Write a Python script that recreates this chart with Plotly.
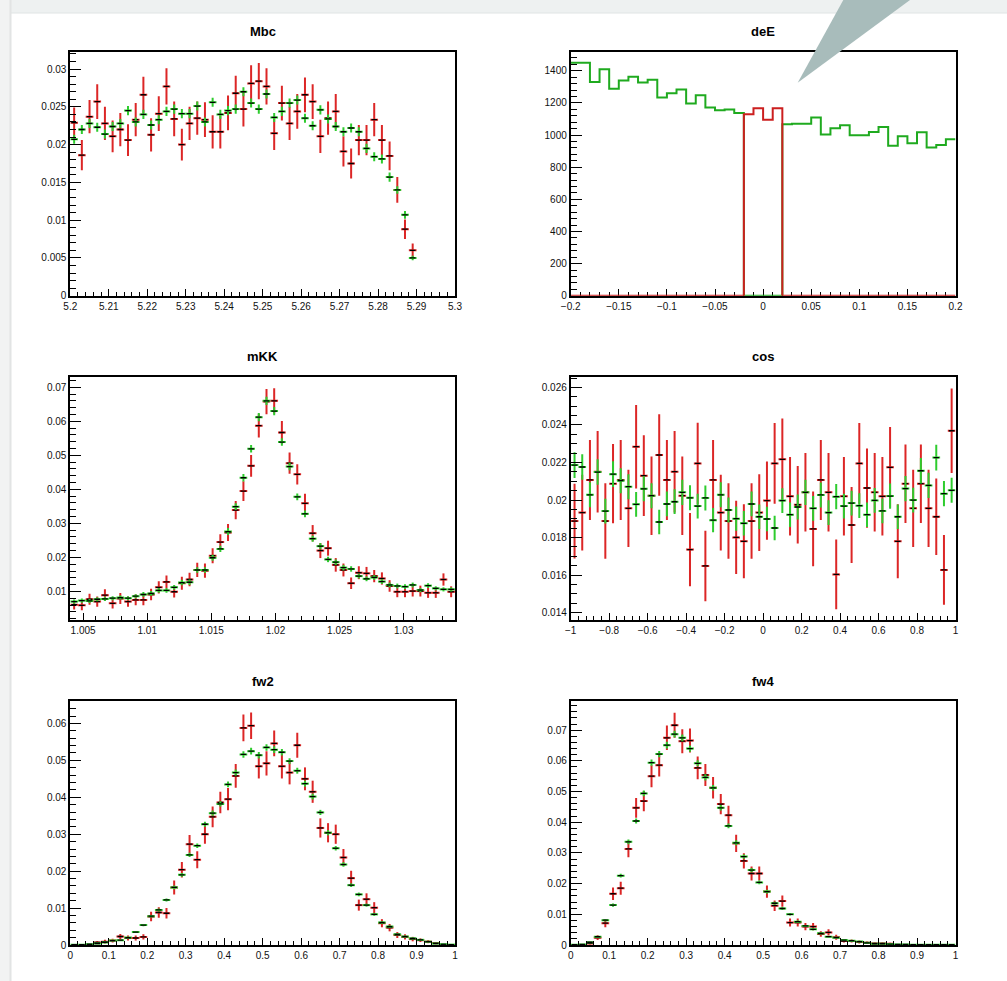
import numpy as np
import plotly.graph_objects as go
from plotly.subplots import make_subplots

# ---------------- data ----------------
panel_titles = ["Mbc", "deE", "mKK", "cos", "fw2", "fw4"]

# Mbc : 50 bins 5.20 .. 5.30
mbc_lo, mbc_hi = 5.2, 5.3
mbc_red = [0.0229, 0.0186, 0.0237, 0.0257, 0.0228, 0.0211, 0.0220, 0.0206, 0.0233, 0.0266,
           0.0213, 0.0241, 0.0277, 0.0234, 0.0200, 0.0228, 0.0235, 0.0233, 0.0217, 0.0217,
           0.0242, 0.0268, 0.0247, 0.0281, 0.0284, 0.0277, 0.0215, 0.0255, 0.0228, 0.0244,
           0.0266, 0.0257, 0.0211, 0.0235, 0.0244, 0.0191, 0.0175, 0.0206, 0.0206, 0.0233,
           0.0206, 0.0185, 0.0140, 0.0088, 0.0060, None, None, None, None, None]
mbc_red_err = [0.0020, 0.0020, 0.0022, 0.0023, 0.0022, 0.0021, 0.0022, 0.0021, 0.0022, 0.0024,
               0.0022, 0.0023, 0.0024, 0.0023, 0.0021, 0.0022, 0.0022, 0.0023, 0.0022, 0.0022,
               0.0023, 0.0023, 0.0023, 0.0024, 0.0024, 0.0024, 0.0022, 0.0023, 0.0022, 0.0023,
               0.0023, 0.0023, 0.0022, 0.0022, 0.0023, 0.0020, 0.0020, 0.0020, 0.0020, 0.0022,
               0.0020, 0.0019, 0.0017, 0.0013, 0.0009, None, None, None, None, None]
mbc_green = [0.0207, 0.0220, 0.0228, 0.0223, 0.0214, 0.0224, 0.0228, 0.0245, 0.0230, 0.0240,
             0.0226, 0.0233, 0.0244, 0.0247, 0.0241, 0.0241, 0.0251, 0.0230, 0.0256, 0.0240,
             0.0245, 0.0247, 0.0270, 0.0255, 0.0247, 0.0267, 0.0236, 0.0244, 0.0255, 0.0259,
             0.0235, 0.0225, 0.0246, 0.0234, 0.0224, 0.0217, 0.0222, 0.0217, 0.0195, 0.0184,
             0.0181, 0.0157, 0.0140, 0.0107, 0.0050, None, None, None, None, None]
mbc_green_err = [0.0006, 0.0006, 0.0006, 0.0006, 0.0006, 0.0006, 0.0006, 0.0006, 0.0006, 0.0006,
                 0.0006, 0.0006, 0.0006, 0.0006, 0.0006, 0.0006, 0.0006, 0.0006, 0.0006, 0.0006,
                 0.0006, 0.0006, 0.0006, 0.0006, 0.0006, 0.0006, 0.0006, 0.0006, 0.0006, 0.0006,
                 0.0006, 0.0006, 0.0006, 0.0006, 0.0006, 0.0006, 0.0006, 0.0006, 0.0006, 0.0006,
                 0.0006, 0.0006, 0.0005, 0.0005, 0.0003, None, None, None, None, None]

# deE : 40 bins -0.2 .. 0.2 (step histograms)
dee_lo, dee_hi = -0.2, 0.2
dee_green = [1450, 1450, 1331, 1410, 1288, 1340, 1363, 1327, 1344, 1234,
             1261, 1284, 1196, 1248, 1171, 1155, 1159, 1138, 0, 0,
             0, 0, 1067, 1071, 1071, 1109, 1003, 1042, 1061, 999,
             999, 1019, 1051, 934, 992, 949, 1017, 922, 938, 974]
dee_red = [0, 0, 0, 0, 0, 0, 0, 0, 0, 0,
           0, 0, 0, 0, 0, 0, 0, 0, 1130, 1167,
           1096, 1167, 0, 0, 0, 0, 0, 0, 0, 0,
           0, 0, 0, 0, 0, 0, 0, 0, 0, 0]

# mKK : 50 bins 1.004 .. 1.034
mkk_lo, mkk_hi = 1.004, 1.034
mkk_red = [0.0061, 0.0059, 0.0077, 0.0070, 0.0089, 0.0065, 0.0079, 0.0070, 0.0075, 0.0075,
           0.0091, 0.0112, 0.0128, 0.0099, 0.0124, 0.0135, 0.0163, 0.0161, 0.0205, 0.0245,
           0.0273, 0.0339, 0.0395, 0.0469, 0.0587, 0.0658, 0.0660, 0.0567, 0.0477, 0.0444,
           0.0359, 0.0271, 0.0220, 0.0227, 0.0178, 0.0163, 0.0124, 0.0155, 0.0153, 0.0145,
           0.0138, 0.0116, 0.0099, 0.0099, 0.0101, 0.0101, 0.0096, 0.0096, 0.0135, 0.0099]
mkk_red_err = [0.0014, 0.0014, 0.0016, 0.0015, 0.0017, 0.0015, 0.0016, 0.0015, 0.0016, 0.0016,
               0.0017, 0.0018, 0.0019, 0.0017, 0.0019, 0.0020, 0.0021, 0.0021, 0.0022, 0.0023,
               0.0025, 0.0027, 0.0029, 0.0032, 0.0035, 0.0037, 0.0037, 0.0034, 0.0031, 0.0030,
               0.0028, 0.0024, 0.0022, 0.0022, 0.0020, 0.0019, 0.0017, 0.0019, 0.0019, 0.0018,
               0.0018, 0.0017, 0.0016, 0.0016, 0.0016, 0.0016, 0.0015, 0.0015, 0.0018, 0.0016]
mkk_green = [0.0070, 0.0073, 0.0072, 0.0077, 0.0078, 0.0080, 0.0082, 0.0080, 0.0086, 0.0091,
             0.0094, 0.0103, 0.0103, 0.0112, 0.0126, 0.0127, 0.0163, 0.0163, 0.0199, 0.0225,
             0.0276, 0.0349, 0.0434, 0.0519, 0.0612, 0.0660, 0.0630, 0.0539, 0.0467, 0.0378,
             0.0328, 0.0255, 0.0233, 0.0194, 0.0186, 0.0170, 0.0166, 0.0145, 0.0137, 0.0141,
             0.0129, 0.0119, 0.0116, 0.0114, 0.0119, 0.0104, 0.0117, 0.0109, 0.0106, 0.0106]
mkk_green_err = [0.0006, 0.0006, 0.0006, 0.0006, 0.0006, 0.0006, 0.0006, 0.0006, 0.0006, 0.0007,
                 0.0007, 0.0007, 0.0007, 0.0007, 0.0008, 0.0008, 0.0008, 0.0008, 0.0009, 0.0009,
                 0.0010, 0.0010, 0.0011, 0.0011, 0.0012, 0.0012, 0.0012, 0.0011, 0.0011, 0.0010,
                 0.0010, 0.0009, 0.0009, 0.0008, 0.0008, 0.0008, 0.0008, 0.0007, 0.0007, 0.0007,
                 0.0007, 0.0007, 0.0007, 0.0007, 0.0007, 0.0006, 0.0007, 0.0006, 0.0006, 0.0006]

# cos : 50 bins -1 .. 1
cos_lo, cos_hi = -1.0, 1.0
cos_red = [0.01888, 0.01933, 0.02107, 0.02151, 0.01888, 0.02087, 0.02107, 0.01956, 0.02284, 0.02130,
           0.02023, 0.02240, 0.02107, 0.02151, 0.02023, 0.01736, 0.02195, 0.01649, 0.02107, 0.01933,
           0.01888, 0.01801, 0.01780, 0.01888, 0.01933, 0.01997, 0.02195, 0.02217, 0.02020, 0.01975,
           0.02041, 0.01846, 0.02107, 0.02041, 0.01604, 0.02020, 0.01867, 0.02195, 0.02064, 0.02041,
           0.02020, 0.02174, 0.01780, 0.02087, 0.01956, 0.02087, 0.01956, 0.01911, 0.01628, 0.02369]
cos_red_err = [0.00199, 0.00202, 0.00213, 0.00217, 0.00201, 0.00211, 0.00213, 0.00206, 0.00222, 0.00215,
               0.00209, 0.00217, 0.00213, 0.00217, 0.00209, 0.00195, 0.00217, 0.00188, 0.00213, 0.00202,
               0.00201, 0.00195, 0.00197, 0.00201, 0.00204, 0.00208, 0.00215, 0.00217, 0.00209, 0.00206,
               0.00209, 0.00199, 0.00213, 0.00209, 0.00186, 0.00209, 0.00202, 0.00215, 0.00211, 0.00209,
               0.00209, 0.00215, 0.00197, 0.00209, 0.00206, 0.00209, 0.00206, 0.00204, 0.00186, 0.00225]
cos_green = [0.02186, 0.02176, 0.02028, 0.02149, 0.01941, 0.02138, 0.02103, 0.02071, 0.01977, 0.02060,
             0.02023, 0.01883, 0.01979, 0.01991, 0.02041, 0.02012, 0.01968, 0.02011, 0.01893, 0.02028,
             0.01947, 0.01901, 0.01876, 0.01979, 0.01911, 0.01899, 0.01851, 0.01997, 0.01922, 0.01963,
             0.02041, 0.01956, 0.02027, 0.01933, 0.02018, 0.01968, 0.01984, 0.01970, 0.01922, 0.01998,
             0.01942, 0.02021, 0.01911, 0.02061, 0.02000, 0.02156, 0.02078, 0.02226, 0.02034, 0.02052]
cos_green_err = [0.00068, 0.00068, 0.00067, 0.00068, 0.00066, 0.00068, 0.00067, 0.00067, 0.00066, 0.00067,
                 0.00067, 0.00065, 0.00066, 0.00066, 0.00067, 0.00067, 0.00066, 0.00067, 0.00065, 0.00067,
                 0.00066, 0.00065, 0.00065, 0.00066, 0.00065, 0.00065, 0.00065, 0.00066, 0.00065, 0.00066,
                 0.00067, 0.00066, 0.00067, 0.00066, 0.00067, 0.00066, 0.00066, 0.00066, 0.00065, 0.00066,
                 0.00066, 0.00067, 0.00065, 0.00067, 0.00066, 0.00068, 0.00067, 0.00069, 0.00067, 0.00067]

# fw2 : 50 bins 0 .. 1
fw2_lo, fw2_hi = 0.0, 1.0
fw2_red = [None, None, None, 0.0007, 0.0009, 0.0012, 0.0023, 0.0019, 0.0019, 0.0022,
           0.0077, 0.0088, 0.0086, 0.0156, 0.0204, 0.0273, 0.0231, 0.0300, 0.0347, 0.0386,
           0.0395, 0.0458, 0.0588, 0.0594, 0.0484, 0.0492, 0.0546, 0.0484, 0.0467, 0.0541,
           0.0450, 0.0415, 0.0317, 0.0304, 0.0300, 0.0237, 0.0181, 0.0108, 0.0124, 0.0101,
           0.0059, 0.0047, 0.0027, 0.0022, 0.0016, 0.0013, 0.0009, 0.0005, None, None]
fw2_red_err = [None, None, None, 0.0004, 0.0005, 0.0005, 0.0007, 0.0007, 0.0007, 0.0007,
               0.0013, 0.0014, 0.0014, 0.0019, 0.0021, 0.0025, 0.0023, 0.0026, 0.0028, 0.0029,
               0.0030, 0.0032, 0.0036, 0.0036, 0.0033, 0.0033, 0.0035, 0.0033, 0.0032, 0.0034,
               0.0031, 0.0030, 0.0026, 0.0026, 0.0026, 0.0023, 0.0020, 0.0015, 0.0016, 0.0015,
               0.0011, 0.0010, 0.0008, 0.0007, 0.0006, 0.0005, 0.0004, 0.0003, None, None]
fw2_green = [0.0001, 0.0001, 0.0002, 0.0004, 0.0007, 0.0012, 0.0013, 0.0020, 0.0035, 0.0054,
             0.0078, 0.0095, 0.0122, 0.0156, 0.0190, 0.0244, 0.0269, 0.0327, 0.0357, 0.0382,
             0.0435, 0.0467, 0.0516, 0.0525, 0.0514, 0.0535, 0.0529, 0.0522, 0.0498, 0.0472,
             0.0437, 0.0402, 0.0359, 0.0304, 0.0262, 0.0218, 0.0162, 0.0137, 0.0108, 0.0083,
             0.0061, 0.0050, 0.0029, 0.0023, 0.0018, 0.0014, 0.0009, 0.0004, 0.0002, 0.0001]
fw2_green_err = [0.0001, 0.0001, 0.0001, 0.0001, 0.0001, 0.0001, 0.0001, 0.0002, 0.0002, 0.0003,
                 0.0003, 0.0004, 0.0004, 0.0005, 0.0005, 0.0006, 0.0006, 0.0007, 0.0007, 0.0007,
                 0.0008, 0.0008, 0.0009, 0.0009, 0.0009, 0.0009, 0.0009, 0.0009, 0.0008, 0.0008,
                 0.0008, 0.0008, 0.0007, 0.0007, 0.0006, 0.0006, 0.0005, 0.0005, 0.0004, 0.0004,
                 0.0003, 0.0003, 0.0002, 0.0002, 0.0002, 0.0001, 0.0001, 0.0001, 0.0001, 0.0001]

# fw4 : 50 bins 0 .. 1
fw4_lo, fw4_hi = 0.0, 1.0
fw4_red = [None, None, 0.0005, 0.0024, 0.0071, 0.0167, 0.0185, 0.0313, 0.0447, 0.0469,
           0.0550, 0.0586, 0.0675, 0.0716, 0.0664, 0.0666, 0.0577, 0.0554, 0.0512, 0.0459,
           0.0423, 0.0331, 0.0274, 0.0233, 0.0233, 0.0174, 0.0128, 0.0143, 0.0073, 0.0073,
           0.0060, 0.0060, 0.0036, 0.0041, 0.0025, 0.0013, 0.0013, 0.0010, 0.0007, 0.0005,
           0.0005, 0.0004, None, None, None, None, None, None, None, None]
fw4_red_err = [None, None, 0.0003, 0.0008, 0.0013, 0.0020, 0.0021, 0.0027, 0.0032, 0.0033,
               0.0036, 0.0037, 0.0040, 0.0041, 0.0039, 0.0039, 0.0037, 0.0036, 0.0035, 0.0033,
               0.0031, 0.0028, 0.0025, 0.0023, 0.0023, 0.0020, 0.0017, 0.0018, 0.0013, 0.0013,
               0.0012, 0.0012, 0.0009, 0.0010, 0.0008, 0.0005, 0.0005, 0.0005, 0.0004, 0.0003,
               0.0003, 0.0003, None, None, None, None, None, None, None, None]
fw4_green = [0.0001, 0.0002, 0.0009, 0.0027, 0.0081, 0.0130, 0.0226, 0.0336, 0.0404, 0.0494,
             0.0594, 0.0622, 0.0651, 0.0687, 0.0675, 0.0640, 0.0592, 0.0546, 0.0512, 0.0447,
             0.0388, 0.0333, 0.0288, 0.0244, 0.0204, 0.0174, 0.0136, 0.0119, 0.0100, 0.0076,
             0.0062, 0.0051, 0.0038, 0.0027, 0.0024, 0.0016, 0.0014, 0.0011, 0.0007, 0.0004,
             0.0004, 0.0003, 0.0002, 0.0002, 0.0001, 0.0001, 0.0001, 0.0001, 0.0001, 0.0001]
fw4_green_err = [0.0001, 0.0001, 0.0001, 0.0002, 0.0004, 0.0005, 0.0006, 0.0008, 0.0008, 0.0009,
                 0.0010, 0.0010, 0.0011, 0.0011, 0.0011, 0.0010, 0.0010, 0.0010, 0.0009, 0.0009,
                 0.0008, 0.0008, 0.0007, 0.0007, 0.0006, 0.0006, 0.0005, 0.0005, 0.0004, 0.0004,
                 0.0003, 0.0003, 0.0003, 0.0002, 0.0002, 0.0002, 0.0001, 0.0001, 0.0001, 0.0001,
                 0.0001, 0.0001, 0.0001, 0.0001, 0.0001, 0.0001, 0.0001, 0.0001, 0.0001, 0.0001]

# ---------------- styling / layout ----------------
W, H = 1007, 981
RED = "#dc2626"
GREEN = "#2ecc2e"
HIST_RED = "#cc1f1f"
HIST_GREEN = "#1faa1f"
FONT = "Liberation Sans, Arial, Helvetica, sans-serif"

col_px = [(70.3, 455.0), (570.7, 955.5)]
row_px = [(51.7, 295.7), (376.7, 620.0), (701.3, 945.0)]
title_py = [31.7, 356.7, 681.0]


def fx(px):
    return px / W


def fy(py):
    return 1 - py / H


fig = make_subplots(rows=3, cols=2)


def add_points(vals, errs, lo, hi, color, row, col):
    edges = np.linspace(lo, hi, len(vals) + 1)
    centers = 0.5 * (edges[:-1] + edges[1:])
    half = (hi - lo) / len(vals) / 2
    fig.add_trace(go.Scatter(
        x=centers, y=vals, mode="markers",
        marker=dict(symbol="line-ew", size=4, color="black",
                    line=dict(width=1.3, color="black")),
        error_y=dict(type="data", array=errs, color=color, thickness=2, width=0),
        error_x=dict(type="constant", value=half, color=color, thickness=2, width=0),
        showlegend=False, hoverinfo="skip"), row=row, col=col)


def add_step(vals, lo, hi, color, row, col):
    edges = np.linspace(lo, hi, len(vals) + 1)
    fig.add_trace(go.Scatter(
        x=edges, y=list(vals) + [vals[-1]], mode="lines", line_shape="hv",
        line=dict(color=color, width=2), showlegend=False, hoverinfo="skip"),
        row=row, col=col)


add_points(mbc_red, mbc_red_err, mbc_lo, mbc_hi, RED, 1, 1)
add_points(mbc_green, mbc_green_err, mbc_lo, mbc_hi, GREEN, 1, 1)
add_step(dee_green, dee_lo, dee_hi, HIST_GREEN, 1, 2)
add_step(dee_red, dee_lo, dee_hi, HIST_RED, 1, 2)
add_points(mkk_red, mkk_red_err, mkk_lo, mkk_hi, RED, 2, 1)
add_points(mkk_green, mkk_green_err, mkk_lo, mkk_hi, GREEN, 2, 1)
add_points(cos_red, cos_red_err, cos_lo, cos_hi, RED, 2, 2)
add_points(cos_green, cos_green_err, cos_lo, cos_hi, GREEN, 2, 2)
add_points(fw2_red, fw2_red_err, fw2_lo, fw2_hi, RED, 3, 1)
add_points(fw2_green, fw2_green_err, fw2_lo, fw2_hi, GREEN, 3, 1)
add_points(fw4_red, fw4_red_err, fw4_lo, fw4_hi, RED, 3, 2)
add_points(fw4_green, fw4_green_err, fw4_lo, fw4_hi, GREEN, 3, 2)

# axis settings per panel: (xrange, xdtick, xminor, yrange, ydtick, yminor)
axis_cfg = [
    ((5.2, 5.3), 0.01, 0.002, (0, 0.0323), 0.005, 0.001),
    ((-0.2, 0.2), 0.05, 0.01, (0, 1519), 200, 40),
    ((1.004, 1.034), 0.005, 0.001, (0.0016, 0.0731), 0.01, 0.002),
    ((-1, 1), 0.2, 0.04, (0.01361, 0.02657), 0.002, 0.0005),
    ((0, 1), 0.1, 0.02, (0, 0.066), 0.01, 0.002),
    ((0, 1), 0.1, 0.02, (0, 0.0794), 0.01, 0.002),
]

tickfont = dict(family=FONT, size=10, color="#111111")
for k, (xr, xd, xm, yr, yd, ym) in enumerate(axis_cfg):
    r, c = divmod(k, 2)
    x0, x1 = col_px[c]
    y0, y1 = row_px[r]
    sfx = "" if k == 0 else str(k + 1)
    fig.layout["xaxis" + sfx].update(
        domain=[fx(x0), fx(x1)], range=list(xr), tick0=0, dtick=xd, automargin=False,
        ticks="inside", ticklen=7, tickwidth=1.2, tickcolor="black",
        minor=dict(ticks="inside", ticklen=4, dtick=xm, tick0=0, tickcolor="black", tickwidth=1,
                   showgrid=False),
        showline=True, mirror=True, linecolor="black", linewidth=1.8,
        showgrid=False, zeroline=False, tickfont=tickfont,
        layer="below traces" if k == 1 else "above traces")
    fig.layout["yaxis" + sfx].update(
        domain=[fy(y1), fy(y0)], range=list(yr), tick0=0, dtick=yd, automargin=False,
        ticks="inside", ticklen=11, tickwidth=1.2, tickcolor="black",
        minor=dict(ticks="inside", ticklen=6, dtick=ym, tick0=0, tickcolor="black", tickwidth=1,
                   showgrid=False),
        showline=True, mirror=True, linecolor="black", linewidth=1.8,
        showgrid=False, zeroline=False, tickfont=tickfont)

annotations = []
for k, name in enumerate(panel_titles):
    r, c = divmod(k, 2)
    x0, x1 = col_px[c]
    annotations.append(dict(
        text="<b>" + name + "</b>", x=fx((x0 + x1) / 2), y=fy(title_py[r]),
        xref="paper", yref="paper",
        showarrow=False, xanchor="center", yanchor="middle",
        font=dict(family=FONT, size=13, color="black")))

shapes = [
    # window chrome: light strips at top and left
    dict(type="rect", xref="paper", yref="paper", x0=0, x1=1, y0=fy(13), y1=1,
         fillcolor="#eef1f1", line=dict(width=0), layer="below"),
    dict(type="line", xref="paper", yref="paper", x0=fx(10), x1=1, y0=fy(13), y1=fy(13),
         line=dict(color="#e0e4e4", width=1), layer="below"),
    dict(type="rect", xref="paper", yref="paper", x0=0, x1=fx(11), y0=0, y1=1,
         fillcolor="#f2f3f3", line=dict(width=0), layer="below"),
    dict(type="line", xref="paper", yref="paper", x0=fx(10.5), x1=fx(10.5), y0=0, y1=1,
         line=dict(color="#e2e4e4", width=2), layer="below"),
    # callout pointer
    dict(type="path", xref="paper", yref="paper",
         path=f"M {fx(797.7)},{fy(82.7)} L {fx(843.3)},{fy(0)} L {fx(910)},{fy(0)} Z",
         fillcolor="#a8bcbb", line=dict(width=0), layer="above"),
]

fig.update_layout(
    width=W, height=H, margin=dict(l=0, r=0, t=0, b=0, pad=0, autoexpand=False),
    paper_bgcolor="white", plot_bgcolor="white",
    annotations=annotations, shapes=shapes, showlegend=False,
)

fig.write_html(
    "out.html",
    post_script="document.body.style.margin='0';document.body.style.overflow='hidden';"
                "document.documentElement.style.overflow='hidden';",
)
